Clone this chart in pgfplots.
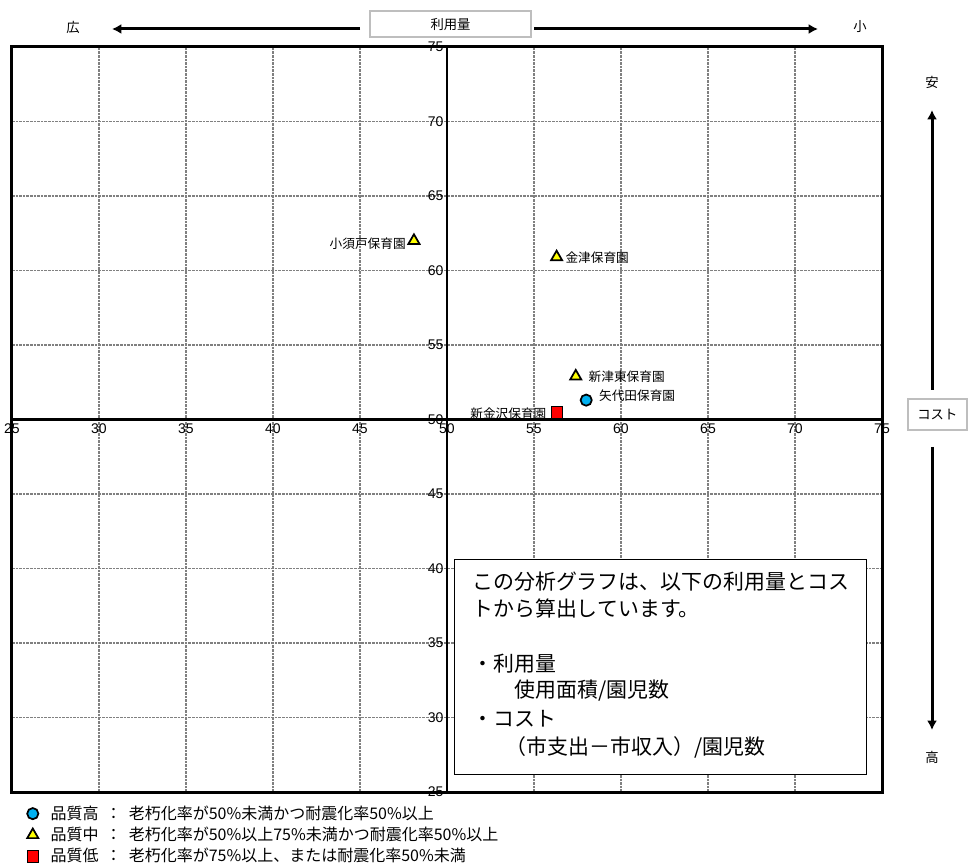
\documentclass[border=0pt]{standalone}
\usepackage{pgfplots}
\pgfplotsset{compat=1.18}
\usetikzlibrary{arrows.meta}
\usepackage{fontspec}
\setmainfont{Liberation Sans}
\newfontfamily\cjk{Noto Sans CJK JP}
\definecolor{qhigh}{RGB}{0,176,240}
\definecolor{qmid}{RGB}{255,255,0}
\definecolor{qlow}{RGB}{255,0,0}
\definecolor{gridgray}{RGB}{128,128,128}
\definecolor{boxgray}{RGB}{190,190,190}
\begin{document}
\begin{tikzpicture}
\path[use as bounding box] (-9pt,-54pt) rectangle (717pt,594pt);
\begin{axis}[
  scale only axis,
  width=652.5pt, height=558.75pt,
  xmin=25, xmax=75, ymin=25, ymax=75,
  xtick={25,30,...,75}, ytick={25,30,...,75},
  axis line style={line width=2.25pt},
  major tick length=0pt,
  grid=major,
  grid style={gridgray, line width=1.4pt, dash pattern=on 2pt off 0.7pt},
  /pgf/number format/assume math mode=true,
  tick label style={font=\fontsize{10.5}{11}\selectfont},
  xticklabel style={yshift=279.375pt, inner sep=3pt},
  yticklabel style={xshift=326.25pt, inner sep=2.5pt},
  legend style={at={(0.017,-0.0147)}, anchor=north west, draw=none, fill=none,
    font=\cjk\fontsize{12}{13}\selectfont, row sep=0.3pt, column sep=7pt, inner sep=0pt},
  legend cell align=left,
]
\draw[line width=1.8pt] (axis cs:25,50) -- (axis cs:75,50);
\draw[line width=1.8pt] (axis cs:50,25) -- (axis cs:50,75);
\addplot[only marks, mark=*, mark size=4.2pt, mark options={fill=qhigh, draw=black, line width=1.3pt}]
  coordinates {(58.0,51.3)};
\addlegendentry{品質高\ \ ：\ \ 老朽化率が50\%未満かつ耐震化率50\%以上}
\addplot[only marks, mark=triangle*, mark size=4.8pt, mark options={fill=qmid, draw=black, line width=1.3pt}]
  coordinates {(48.1,62.0) (56.3,60.9) (57.4,52.9)};
\addlegendentry{品質中\ \ ：\ \ 老朽化率が50\%以上75\%未満かつ耐震化率50\%以上}
\addplot[only marks, mark=square*, mark size=4.3pt, mark options={fill=qlow, draw=none}]
  coordinates {(56.3,50.5)};
\addlegendentry{品質低\ \ ：\ \ 老朽化率が75\%以上、または耐震化率50\%未満}
\begin{scope}[every node/.style={font=\cjk\fontsize{9.5}{11}\selectfont, inner sep=0pt}]
\node[anchor=east] at ([xshift=-6pt,yshift=-2pt]axis cs:48.1,62.0) {小須戸保育園};
\node[anchor=west] at ([xshift=6.5pt,yshift=-0.5pt]axis cs:56.3,60.9) {金津保育園};
\node[anchor=west] at ([xshift=9.5pt]axis cs:57.4,52.9) {新津東保育園};
\node[anchor=west] at ([xshift=9.5pt,yshift=3pt]axis cs:58.0,51.3) {矢代田保育園};
\node[anchor=east] at ([xshift=-7.5pt,yshift=-1.5pt]axis cs:56.3,50.5) {新金沢保育園};
\end{scope}
\end{axis}
% explanatory box
\draw[line width=0.75pt, fill=white] (331.5pt,12.75pt) rectangle (640.5pt,174pt);
\begin{scope}[every node/.style={font=\cjk\fontsize{15.7}{18}\selectfont, inner sep=0pt, anchor=west}]
\node at (345pt,157.5pt) {この分析グラフは、以下の利用量とコス};
\node at (345pt,137.25pt) {トから算出しています。};
\node at (345pt,96pt) {・利用量};
\node at (376.5pt,75.75pt) {使用面積/園児数};
\node at (345pt,54.75pt) {・コスト};
\node at (370pt,33.75pt) {（市支出－市収入）/園児数};
\end{scope}
% top annotation
\begin{scope}[every node/.style={font=\cjk\fontsize{10}{12}\selectfont, inner sep=0pt}]
\node at (45.75pt,573.75pt) {広};
\node at (636pt,573.75pt) {小};
\draw[boxgray, line width=1.3pt, fill=white] (268.5pt,566.25pt) rectangle (389.25pt,585.75pt);
\node at (328.9pt,575.5pt) {利用量};
\draw[line width=2.25pt, -{Latex[length=7pt,width=7.5pt]}] (261pt,572.25pt) -- (75pt,572.25pt);
\draw[line width=2.25pt, -{Latex[length=7pt,width=7.5pt]}] (391.5pt,572.25pt) -- (604.5pt,572.25pt);
% right annotation
\node at (690pt,532.5pt) {安};
\node at (690pt,26.25pt) {高};
\draw[boxgray, line width=1.3pt, fill=white] (672pt,271.5pt) rectangle (716.3pt,294.75pt);
\node at (694pt,283pt) {コスト};
\draw[line width=2.25pt, -{Latex[length=7pt,width=7.5pt]}] (690pt,301.5pt) -- (690pt,511.5pt);
\draw[line width=2.25pt, -{Latex[length=7pt,width=7.5pt]}] (690pt,258.75pt) -- (690pt,46.5pt);
\end{scope}
\end{tikzpicture}
\end{document}
